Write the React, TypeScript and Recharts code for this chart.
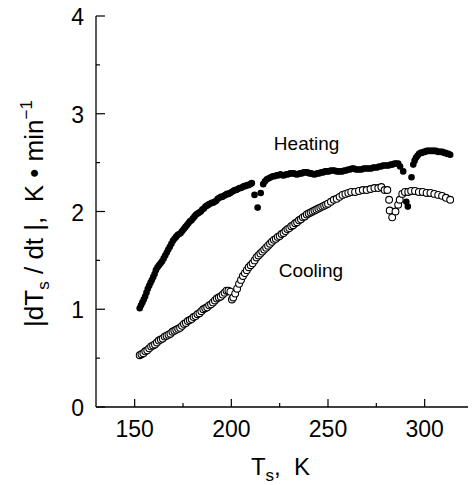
import { ReferenceDot, Scatter, ScatterChart, XAxis, YAxis } from "recharts";

const FONT = '"Liberation Sans", Arial, sans-serif';

// heating run (filled circles)
const heatingT = [
  152.6, 153.3, 154.0, 154.7, 155.4, 156.1, 156.8, 157.5, 158.2, 158.9, 159.6, 160.3,
  161.0, 161.8, 162.6, 163.4, 164.2, 165.0, 165.8, 166.6, 167.4, 168.2, 169.0, 169.8,
  170.6, 171.4, 172.2, 173.0, 173.8, 174.6, 175.4, 176.2, 177.0, 177.8, 178.6, 179.4,
  180.2, 181.0, 181.8, 182.6, 183.4, 184.2, 185.0, 185.8, 186.6, 187.4, 188.2, 189.0,
  189.8, 190.6, 191.4, 192.2, 193.0, 193.8, 194.6, 195.4, 196.2, 197.0, 197.8, 198.6,
  199.4, 200.2, 201.0, 201.8, 202.6, 203.4, 204.2, 205.0, 205.8, 206.6, 207.4, 208.2,
  209.0, 209.8, 210.6, 212.0, 213.6, 215.2, 216.5, 217.4, 218.4, 219.4, 220.4, 221.4,
  222.4, 223.4, 224.4, 225.4, 226.4, 227.4, 228.4, 229.4, 230.4, 231.4, 232.4, 233.4,
  234.4, 235.4, 236.4, 237.4, 238.4, 239.4, 240.4, 241.4, 242.4, 243.4, 244.4, 245.4,
  246.4, 247.4, 248.4, 249.4, 250.4, 251.4, 252.4, 253.4, 254.4, 255.4, 256.4, 257.4,
  258.4, 259.4, 260.4, 261.4, 262.4, 263.4, 264.4, 265.4, 266.4, 267.4, 268.4, 269.4,
  270.4, 271.4, 272.4, 273.4, 274.4, 275.4, 276.4, 277.4, 278.4, 279.4, 280.4, 281.4,
  282.4, 283.4, 284.4, 285.4, 286.3, 287.3, 288.9, 290.5, 291.3, 293.2, 294.1, 294.8,
  295.5, 296.3, 297.1, 297.9, 298.7, 299.5, 300.3, 301.1, 301.9, 302.7, 303.5, 304.3,
  305.1, 305.9, 306.7, 307.5, 308.3, 309.1, 309.9, 310.7, 311.5, 312.3, 313.2,
];
const heatingRate = [
  1.01, 1.04, 1.07, 1.1, 1.13, 1.17, 1.21, 1.24, 1.27, 1.3, 1.33, 1.36,
  1.4, 1.43, 1.45, 1.47, 1.49, 1.52, 1.55, 1.58, 1.61, 1.64, 1.67, 1.7,
  1.72, 1.74, 1.76, 1.77, 1.78, 1.8, 1.82, 1.84, 1.86, 1.88, 1.9, 1.91,
  1.93, 1.95, 1.97, 1.98, 1.99, 2.0, 2.02, 2.03, 2.05, 2.06, 2.07, 2.08,
  2.09, 2.09, 2.1, 2.11, 2.13, 2.14, 2.15, 2.15, 2.16, 2.17, 2.18, 2.18,
  2.19, 2.2, 2.21, 2.22, 2.22, 2.23, 2.24, 2.24, 2.25, 2.26, 2.26, 2.27,
  2.27, 2.28, 2.29, 2.17, 2.04, 2.19, 2.28, 2.31, 2.33, 2.34, 2.35, 2.36,
  2.36, 2.37, 2.37, 2.38, 2.37, 2.37, 2.38, 2.38, 2.39, 2.39, 2.39, 2.38,
  2.38, 2.39, 2.39, 2.4, 2.4, 2.4, 2.39, 2.39, 2.38, 2.38, 2.39, 2.39,
  2.4, 2.4, 2.41, 2.41, 2.41, 2.42, 2.42, 2.42, 2.41, 2.41, 2.41, 2.41,
  2.42, 2.42, 2.43, 2.43, 2.44, 2.44, 2.43, 2.43, 2.43, 2.43, 2.44, 2.44,
  2.44, 2.44, 2.44, 2.45, 2.45, 2.45, 2.46, 2.46, 2.47, 2.47, 2.47, 2.47,
  2.48, 2.48, 2.49, 2.49, 2.49, 2.46, 2.41, 2.1, 2.05, 2.35, 2.48, 2.52,
  2.55, 2.57, 2.59, 2.6, 2.6, 2.61, 2.61, 2.62, 2.62, 2.62, 2.62, 2.62,
  2.62, 2.62, 2.61, 2.61, 2.61, 2.61, 2.6, 2.6, 2.59, 2.59, 2.58,
];

// cooling run (open circles)
const coolingT = [
  152.6, 153.5, 154.5, 155.5, 156.5, 157.5, 158.5, 159.5, 160.5, 161.5, 162.5, 163.5,
  164.5, 165.5, 166.5, 167.5, 168.5, 169.5, 170.5, 171.5, 172.5, 173.5, 174.5, 175.5,
  176.5, 177.5, 178.5, 179.5, 180.5, 181.5, 182.5, 183.5, 184.5, 185.5, 186.5, 187.5,
  188.5, 189.5, 190.5, 191.5, 192.5, 193.5, 194.5, 195.5, 196.5, 197.5, 198.5, 199.5,
  200.3, 201.0, 202.0, 203.0, 204.0, 205.0, 206.0, 207.0, 208.0, 209.0, 210.0, 211.0,
  212.0, 213.0, 214.0, 215.0, 216.0, 217.0, 218.0, 219.0, 220.0, 221.0, 222.0, 223.0,
  224.0, 225.0, 226.0, 227.0, 228.0, 229.0, 230.0, 231.0, 232.0, 233.0, 234.0, 235.0,
  236.0, 237.0, 238.0, 239.0, 240.0, 241.0, 242.0, 243.0, 244.0, 245.0, 246.0, 247.0,
  248.0, 249.0, 250.0, 251.5, 253.0, 254.5, 256.0, 257.5, 259.0, 260.5, 262.0, 264.0,
  266.0, 268.0, 270.0, 272.0, 274.0, 276.0, 277.6, 279.3, 280.7, 281.6, 281.9, 283.2,
  284.9, 286.3, 287.1, 288.4, 289.8, 291.5, 293.0, 295.0, 297.0, 299.0, 301.0, 303.0,
  305.0, 307.0, 309.0, 311.0, 313.2,
];
const coolingRate = [
  0.53, 0.54, 0.55, 0.57, 0.58, 0.6, 0.62, 0.63, 0.64, 0.66, 0.68, 0.69,
  0.7, 0.72, 0.73, 0.74, 0.75, 0.77, 0.78, 0.79, 0.8, 0.81, 0.83, 0.85,
  0.86, 0.88, 0.89, 0.9, 0.92, 0.93, 0.95, 0.96, 0.98, 1.0, 1.01, 1.02,
  1.04, 1.05, 1.07, 1.09, 1.11, 1.12, 1.13, 1.15, 1.17, 1.19, 1.19, 1.18,
  1.1, 1.12, 1.16, 1.21, 1.26, 1.3, 1.34, 1.37, 1.4, 1.43, 1.45, 1.47,
  1.5, 1.53, 1.55, 1.57, 1.59, 1.61, 1.63, 1.65, 1.67, 1.69, 1.71, 1.72,
  1.74, 1.75, 1.77, 1.78, 1.8, 1.82, 1.83, 1.85, 1.86, 1.88, 1.89, 1.91,
  1.92, 1.94, 1.95, 1.97, 1.98, 1.99, 2.0, 2.01, 2.02, 2.03, 2.04, 2.05,
  2.06, 2.07, 2.08, 2.1, 2.12, 2.13, 2.15, 2.17, 2.18, 2.19, 2.2, 2.2,
  2.21, 2.22, 2.22, 2.23, 2.24, 2.24, 2.25, 2.22, 2.22, 2.12, 2.01, 1.94,
  2.0, 2.07, 2.12, 2.18, 2.2, 2.2, 2.21, 2.21, 2.2, 2.2, 2.19, 2.19,
  2.18, 2.17, 2.16, 2.14, 2.12,
];

const xDomain = [130, 325];
const yDomain = [0, 4];
const xTicks = [150, 175, 200, 225, 250, 275, 300, 325];
const xTopTicks = [150, 200, 250, 300];
const yTicks = [0, 0.5, 1, 1.5, 2, 2.5, 3, 3.5, 4];
const yRightTicks = [0, 1, 2, 3, 4];

const heating = heatingT.map((t, i) => ({ t, rate: heatingRate[i] }));
const cooling = coolingT.map((t, i) => ({ t, rate: coolingRate[i] }));

const isMajorX = (v: number) => v % 50 === 0;

function LeftTick({ x, y, payload }: any) {
  const major = Number.isInteger(payload.value);
  return (
    <g>
      <line x1={x} y1={y} x2={x + (major ? 9 : 4)} y2={y} stroke="#000" strokeWidth={1.2} />
      {major && (
        <text x={x - 12} y={y} dy={9} textAnchor="end" fontSize={23} fontFamily={FONT} fill="#000">
          {payload.value}
        </text>
      )}
    </g>
  );
}

function BottomTick({ x, y, payload }: any) {
  const major = isMajorX(payload.value);
  return (
    <g>
      <line x1={x} y1={y} x2={x} y2={y - (major ? 8 : 4)} stroke="#000" strokeWidth={1.2} />
      {major && (
        <text x={x} y={y} dy={30} textAnchor="middle" fontSize={23} fontFamily={FONT} fill="#000">
          {payload.value}
        </text>
      )}
    </g>
  );
}

function TopTick({ x, y }: any) {
  return <line x1={x} y1={y} x2={x} y2={y + 9} stroke="#000" strokeWidth={1.2} />;
}

function RightTick({ x, y }: any) {
  return <line x1={x} y1={y} x2={x - 5} y2={y} stroke="#000" strokeWidth={1.2} />;
}

function FilledDot({ cx, cy }: any) {
  return <circle cx={cx} cy={cy} r={3.3} fill="#000" />;
}

function OpenDot({ cx, cy }: any) {
  return <circle cx={cx} cy={cy} r={3.4} fill="#fff" stroke="#000" strokeWidth={1.1} />;
}

function YTitle({ viewBox }: any) {
  const x = 43;
  const y = viewBox.y + viewBox.height / 2 + 2;
  return (
    <text
      x={x}
      y={y}
      transform={`rotate(-90, ${x}, ${y})`}
      textAnchor="middle"
      fontSize={26}
      fontFamily={FONT}
      fill="#000"
      style={{ whiteSpace: "pre" }}
    >
      |dT
      <tspan fontSize={17} dy={6}>s</tspan>
      <tspan dy={-6}> / dt |,  K • min</tspan>
      <tspan fontSize={17} dy={-11}>−1</tspan>
    </text>
  );
}

function XTitle({ viewBox }: any) {
  const x = viewBox.x + viewBox.width / 2 - 4;
  const y = viewBox.y + 68;
  return (
    <text x={x} y={y} textAnchor="middle" fontSize={24} fontFamily={FONT} fill="#000" style={{ whiteSpace: "pre" }}>
      T
      <tspan fontSize={17} dy={6}>s</tspan>
      <tspan dy={-6}>,  K</tspan>
    </text>
  );
}

function seriesLabel(text: string) {
  return ({ viewBox }: any) => (
    <text x={viewBox.x} y={viewBox.y} fontSize={19} fontFamily={FONT} fill="#000">
      {text}
    </text>
  );
}

export default function App() {
  return (
    <div style={{ background: "#fff", margin: "-8px 0 0 -8px", width: 476, height: 485 }}>
      <ScatterChart width={476} height={485} margin={{ top: 16, right: 3, bottom: 0, left: 0 }}>
        <XAxis
          xAxisId="bottom"
          dataKey="t"
          type="number"
          domain={xDomain}
          ticks={xTicks}
          interval={0}
          height={78}
          tickSize={0}
          tickMargin={0}
          tickLine={false}
          axisLine={{ stroke: "#000", strokeWidth: 1.3 }}
          tick={(p: any) => <BottomTick {...p} />}
          label={{ content: XTitle }}
          allowDataOverflow
        />
        <XAxis
          xAxisId="top"
          orientation="top"
          type="number"
          domain={xDomain}
          ticks={xTopTicks}
          interval={0}
          height={0}
          tickSize={0}
          tickMargin={0}
          tickLine={false}
          axisLine={{ stroke: "#000", strokeWidth: 1.2 }}
          tick={(p: any) => <TopTick {...p} />}
          allowDataOverflow
        />
        <YAxis
          yAxisId="left"
          dataKey="rate"
          type="number"
          domain={yDomain}
          ticks={yTicks}
          interval={0}
          width={96}
          tickSize={0}
          tickMargin={0}
          tickLine={false}
          axisLine={{ stroke: "#000", strokeWidth: 1.3 }}
          tick={(p: any) => <LeftTick {...p} />}
          label={{ content: YTitle }}
          allowDataOverflow
        />
        <YAxis
          yAxisId="right"
          orientation="right"
          type="number"
          domain={yDomain}
          ticks={yRightTicks}
          interval={0}
          width={0}
          tickSize={0}
          tickMargin={0}
          tickLine={false}
          axisLine={{ stroke: "#000", strokeWidth: 1.2 }}
          tick={(p: any) => <RightTick {...p} />}
          allowDataOverflow
        />
        <Scatter
          name="Cooling"
          data={cooling}
          xAxisId="bottom"
          yAxisId="left"
          shape={OpenDot}
          isAnimationActive={false}
        />
        <Scatter
          name="Heating"
          data={heating}
          xAxisId="bottom"
          yAxisId="left"
          shape={FilledDot}
          isAnimationActive={false}
        />
        <ReferenceDot
          xAxisId="bottom"
          yAxisId="left"
          x={222}
          y={2.63}
          r={0}
          fill="none"
          stroke="none"
          label={{ content: seriesLabel("Heating") }}
        />
        <ReferenceDot
          xAxisId="bottom"
          yAxisId="left"
          x={224.5}
          y={1.33}
          r={0}
          fill="none"
          stroke="none"
          label={{ content: seriesLabel("Cooling") }}
        />
      </ScatterChart>
    </div>
  );
}
